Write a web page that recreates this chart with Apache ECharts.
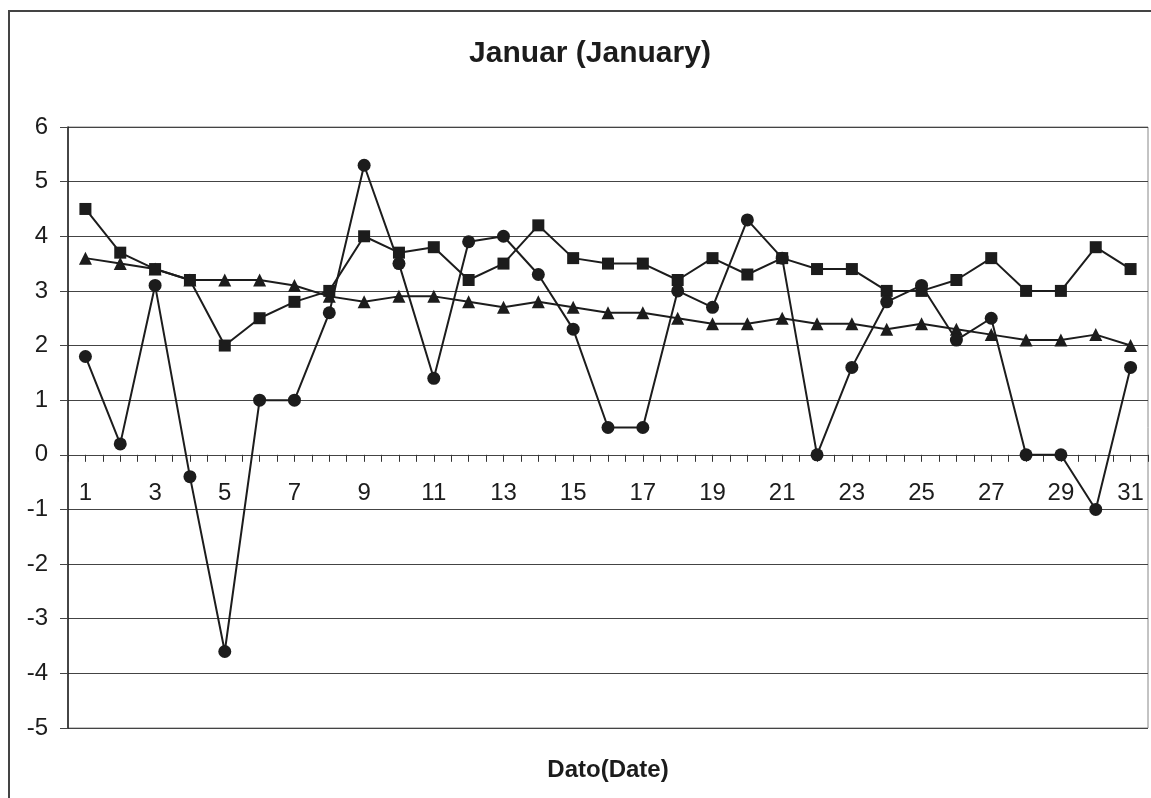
<!DOCTYPE html>
<html>
<head>
<meta charset="utf-8">
<title>Januar (January)</title>
<script src="https://cdn.jsdelivr.net/npm/echarts@6/dist/echarts.min.js"></script>
<style>
  html, body { margin: 0; padding: 0; background: #fff; }
  #chart { width: 1151px; height: 798px; }
</style>
</head>
<body>
<div id="chart"></div>
<script>
// Days of January
const days = [1,2,3,4,5,6,7,8,9,10,11,12,13,14,15,16,17,18,19,20,21,22,23,24,25,26,27,28,29,30,31];

// Daily values (circles)
const dailyValues = [1.8,0.2,3.1,-0.4,-3.6,1.0,1.0,2.6,5.3,3.5,1.4,3.9,4.0,3.3,2.3,0.5,0.5,3.0,2.7,4.3,3.6,0.0,1.6,2.8,3.1,2.1,2.5,0.0,0.0,-1.0,1.6];

// Square series
const squareValues = [4.5,3.7,3.4,3.2,2.0,2.5,2.8,3.0,4.0,3.7,3.8,3.2,3.5,4.2,3.6,3.5,3.5,3.2,3.6,3.3,3.6,3.4,3.4,3.0,3.0,3.2,3.6,3.0,3.0,3.8,3.4];

// Triangle series
const triangleValues = [3.6,3.5,3.4,3.2,3.2,3.2,3.1,2.9,2.8,2.9,2.9,2.8,2.7,2.8,2.7,2.6,2.6,2.5,2.4,2.4,2.5,2.4,2.4,2.3,2.4,2.3,2.2,2.1,2.1,2.2,2.0];

// Y axis range and step
const yMin = -5, yMax = 6, yStep = 1;

const titleText = 'Januar (January)';
const xAxisTitle = 'Dato(Date)';

const FONT = "'Liberation Sans', Arial, sans-serif";
const INK = '#1c1c1c';

const GRID_TOP = 127, GRID_BOTTOM = 70, CHART_H = 798;

const pairs = vals => days.map((d, i) => [d, vals[i]]);

function lineSeries(name, vals, symbol, size) {
  return {
    name: name,
    type: 'line',
    data: pairs(vals),
    symbol: symbol,
    symbolSize: size,
    showAllSymbol: true,
    lineStyle: { color: INK, width: 2 },
    itemStyle: { color: INK, borderWidth: 0 },
    emphasis: { disabled: true },
    animation: false
  };
}

// Day labels sit just under the zero line, so their offset is measured
// from the bottom edge of the grid up to the zero line.
const plotH = CHART_H - GRID_TOP - GRID_BOTTOM;
const zeroFromBottom = plotH * (0 - yMin) / (yMax - yMin);
const dayLabelGap = 27;

const chart = echarts.init(document.getElementById('chart'), null, { renderer: 'canvas' });

chart.setOption({
  backgroundColor: '#fff',
  animation: false,
  title: {
    text: titleText,
    left: 585,
    top: 34,
    textAlign: 'center',
    textStyle: { fontFamily: FONT, fontSize: 30, fontWeight: 'bold', color: INK }
  },
  graphic: [
    {
      type: 'rect',
      shape: { x: 9, y: 11, width: 1160, height: 820 },
      style: { fill: null, stroke: '#444', lineWidth: 2 },
      silent: true,
      z: 0
    },
    {
      type: 'text',
      x: 608,
      y: 770,
      style: {
        text: xAxisTitle,
        font: "bold 24px 'Liberation Sans', Arial, sans-serif",
        fill: INK,
        textAlign: 'center',
        textVerticalAlign: 'middle'
      },
      silent: true
    }
  ],
  grid: {
    left: 68, right: 3, top: GRID_TOP, bottom: GRID_BOTTOM,
    show: true,
    borderColor: '#888',
    borderWidth: 1,
    backgroundColor: 'transparent'
  },
  xAxis: {
    type: 'value',
    min: 0.5,
    max: 31.5,
    interval: 0.5,
    axisLine: { show: true, onZero: true, lineStyle: { color: '#444', width: 1 } },
    axisTick: { show: true, inside: false, length: 7, lineStyle: { color: '#333', width: 1 } },
    splitLine: { show: false },
    axisLabel: {
      margin: dayLabelGap - zeroFromBottom,
      fontFamily: FONT,
      fontSize: 24,
      color: INK,
      showMinLabel: true,
      showMaxLabel: true,
      formatter: v => (Number.isInteger(v) && v % 2 === 1) ? String(v) : ''
    }
  },
  yAxis: {
    type: 'value',
    min: yMin,
    max: yMax,
    interval: yStep,
    axisLine: { show: true, onZero: false, lineStyle: { color: INK, width: 1.5 } },
    axisTick: { show: true, inside: false, length: 8, lineStyle: { color: '#444', width: 1 } },
    splitLine: { show: true, lineStyle: { color: '#444', width: 1 } },
    axisLabel: { margin: 20, fontFamily: FONT, fontSize: 24, color: INK }
  },
  series: [
    lineSeries('Trekant', triangleValues, 'triangle', 13),
    lineSeries('Firkant', squareValues, 'rect', 12),
    lineSeries('Dag', dailyValues, 'circle', 13)
  ]
});
</script>
</body>
</html>
